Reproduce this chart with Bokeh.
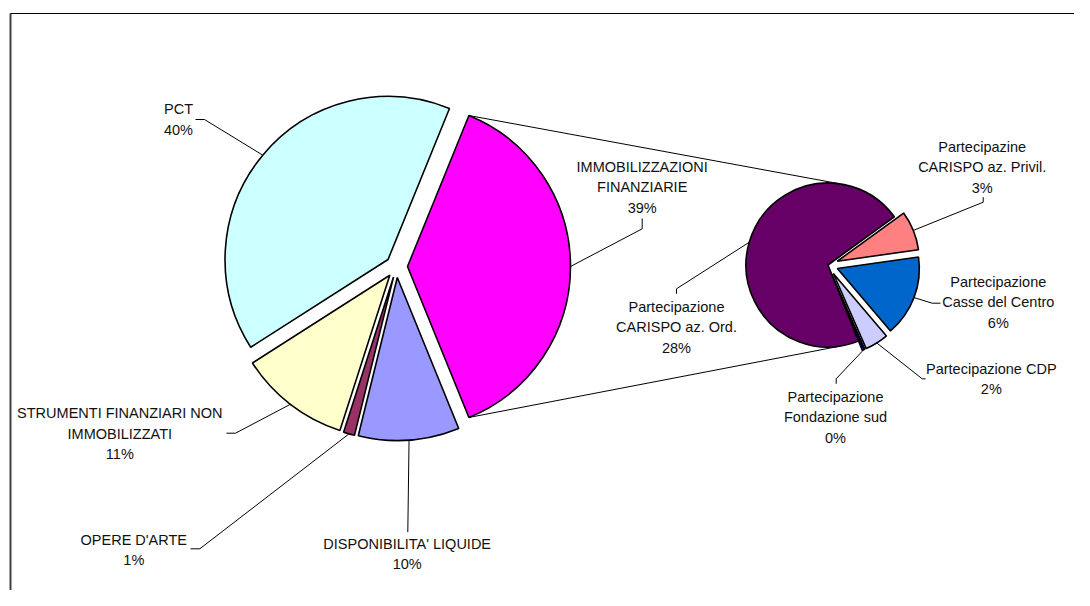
import math
from bokeh.plotting import figure
from bokeh.models import Range1d, ColumnDataSource
from bokeh.core.properties import value
from bokeh.embed import file_html
from bokeh.resources import INLINE

# ---------------- data ----------------
main_names = ["PCT", "STRUMENTI FINANZIARI NON\nIMMOBILIZZATI", "OPERE D'ARTE",
              "DISPONIBILITA' LIQUIDE", "IMMOBILIZZAZIONI\nFINANZIARIE"]
main_values = [40.2, 11.0, 1.1, 10.0, 37.7]
main_pct = ["40%", "11%", "1%", "10%", "39%"]

sub_names = ["Partecipazine\nCARISPO az. Privil.", "Partecipazione\nCasse del Centro",
             "Partecipazione CDP", "Partecipazione\nFondazione sud",
             "Partecipazione\nCARISPO az. Ord."]
sub_values = [3.0, 6.2, 1.8, 0.2, 27.5]
sub_pct = ["3%", "6%", "2%", "0%", "28%"]

# ---------------- styles / layout ----------------
main_colors = ["#CCFFFF", "#FFFFCC", "#993366", "#9999FF", "#FF00FF"]
sub_colors = ["#FF8080", "#0066CC", "#CCCCFF", "#000080", "#660066"]

W, H = 1074, 590
OFF = 0  # observed offset of the figure in the screenshot


def D(sx, sy):
    """screen pixel -> data coordinates"""
    return sx - OFF, (H + OFF) - sy


C1 = D(396, 266)
R1 = 163
EX1 = 11
C2 = D(827.5, 264.5)
R2 = 82
EX2 = 10
SUB_START = math.radians(36)

# label block centres (screen) and leader elbows (screen)
main_label_pos = [(178, 119), (119.3, 433.3), (133.3, 549.2), (406.7, 553.7), (641.7, 186.7)]
main_leader = [[(195, 119), (204, 119)], [(226, 432.7), (235, 432.7)],
               [(190, 548.3), (199.3, 548.3)], [(407.3, 531.7)],
               [(641.7, 218), (641.7, 228.3)]]
sub_label_pos = [(981.7, 166.7), (997.8, 301.7), (990.8, 378.8), (835, 416.7), (676, 326.7)]
sub_leader = [[(982.7, 196.7), (982.7, 201.7)], [(940, 302.7), (931.7, 302.7)],
              [(925, 378.3), (921.7, 378.3)], [(835.7, 383.3), (835.7, 378.3)],
              [(676, 293.3), (676, 288.3)]]

p = figure(width=W, height=H, output_backend="svg", toolbar_location=None,
           x_range=Range1d(0, W), y_range=Range1d(0, H), min_border=0)
p.axis.visible = False
p.grid.visible = False
p.outline_line_color = None
p.background_fill_color = "white"
p.border_fill_color = "white"

# frame of the chart area
fx, fy = D(10, 13)
p.line([fx, fx], [0, fy], line_color="#404040", line_width=2)
p.line([fx, W], [fy, fy], line_color="#000000", line_width=1.2)

# ---------------- main pie ----------------
tot = sum(main_values)
spans = [2 * math.pi * v / tot for v in main_values]
a = spans[-1] / 2
m_s, m_e = [], []
for sp in spans[:-1]:
    m_s.append(a)
    m_e.append(a + sp)
    a += sp
m_s.append(a)
m_e.append(spans[-1] / 2 + 2 * math.pi)

mx, my, mbis = [], [], []
for s, e in zip(m_s, m_e):
    b = (s + e) / 2
    mbis.append(b)
    mx.append(C1[0] + EX1 * math.cos(b))
    my.append(C1[1] + EX1 * math.sin(b))

p.wedge(x="x", y="y", radius=R1, start_angle="s", end_angle="e", fill_color="c",
        line_color="black", line_width=1.6,
        source=ColumnDataSource(dict(x=mx, y=my, s=m_s, e=m_e, c=main_colors)))

# ---------------- secondary pie ----------------
stot = sum(sub_values)
cur = SUB_START
s_s, s_e = [], []
for v in sub_values:
    sp = 2 * math.pi * v / stot
    s_s.append(cur - sp)
    s_e.append(cur)
    cur -= sp

sx_, sy_, sbis = [], [], []
for i, (s, e) in enumerate(zip(s_s, s_e)):
    b = (s + e) / 2
    sbis.append(b)
    ex = 0 if i == len(sub_values) - 1 else EX2
    sx_.append(C2[0] + ex * math.cos(b))
    sy_.append(C2[1] + ex * math.sin(b))

p.wedge(x="x", y="y", radius=R2, start_angle="s", end_angle="e", fill_color="c",
        line_color="black", line_width=1.6,
        source=ColumnDataSource(dict(x=sx_, y=sy_, s=s_s, e=s_e, c=sub_colors)))

# ---------------- connector lines ----------------
oi = len(main_values) - 1
ocx, ocy = mx[oi], my[oi]
top_a = spans[-1] / 2
bot_a = -spans[-1] / 2
conn_a = math.radians(81)
p.line([ocx + R1 * math.cos(top_a), C2[0] + R2 * math.cos(conn_a)],
       [ocy + R1 * math.sin(top_a), C2[1] + R2 * math.sin(conn_a)],
       line_color="black", line_width=1)
p.line([ocx + R1 * math.cos(bot_a), C2[0] + R2 * math.cos(-conn_a)],
       [ocy + R1 * math.sin(bot_a), C2[1] + R2 * math.sin(-conn_a)],
       line_color="black", line_width=1)

# ---------------- leader lines ----------------
lx, ly = [], []
for i in range(len(main_values)):
    pts = [D(*q) for q in main_leader[i]]
    pts.append((mx[i] + R1 * math.cos(mbis[i]), my[i] + R1 * math.sin(mbis[i])))
    lx.append([q[0] for q in pts])
    ly.append([q[1] for q in pts])
for i in range(len(sub_values)):
    pts = [D(*q) for q in sub_leader[i]]
    pts.append((sx_[i] + R2 * math.cos(sbis[i]), sy_[i] + R2 * math.sin(sbis[i])))
    lx.append([q[0] for q in pts])
    ly.append([q[1] for q in pts])
p.multi_line(lx, ly, line_color="black", line_width=1)

# ---------------- labels ----------------
tx, ty, tt = [], [], []
for i in range(len(main_values)):
    x, y = D(*main_label_pos[i])
    tx.append(x)
    ty.append(y)
    tt.append(main_names[i] + "\n" + main_pct[i])
for i in range(len(sub_values)):
    x, y = D(*sub_label_pos[i])
    tx.append(x)
    ty.append(y)
    tt.append(sub_names[i] + "\n" + sub_pct[i])

p.text(x=tx, y=ty, text=tt, text_align="center", text_baseline="middle",
       text_font=value("Liberation Sans"), text_font_size="14.5px",
       text_line_height=1.27, text_color="#111111")

open("out.html", "w").write(file_html(p, INLINE))
